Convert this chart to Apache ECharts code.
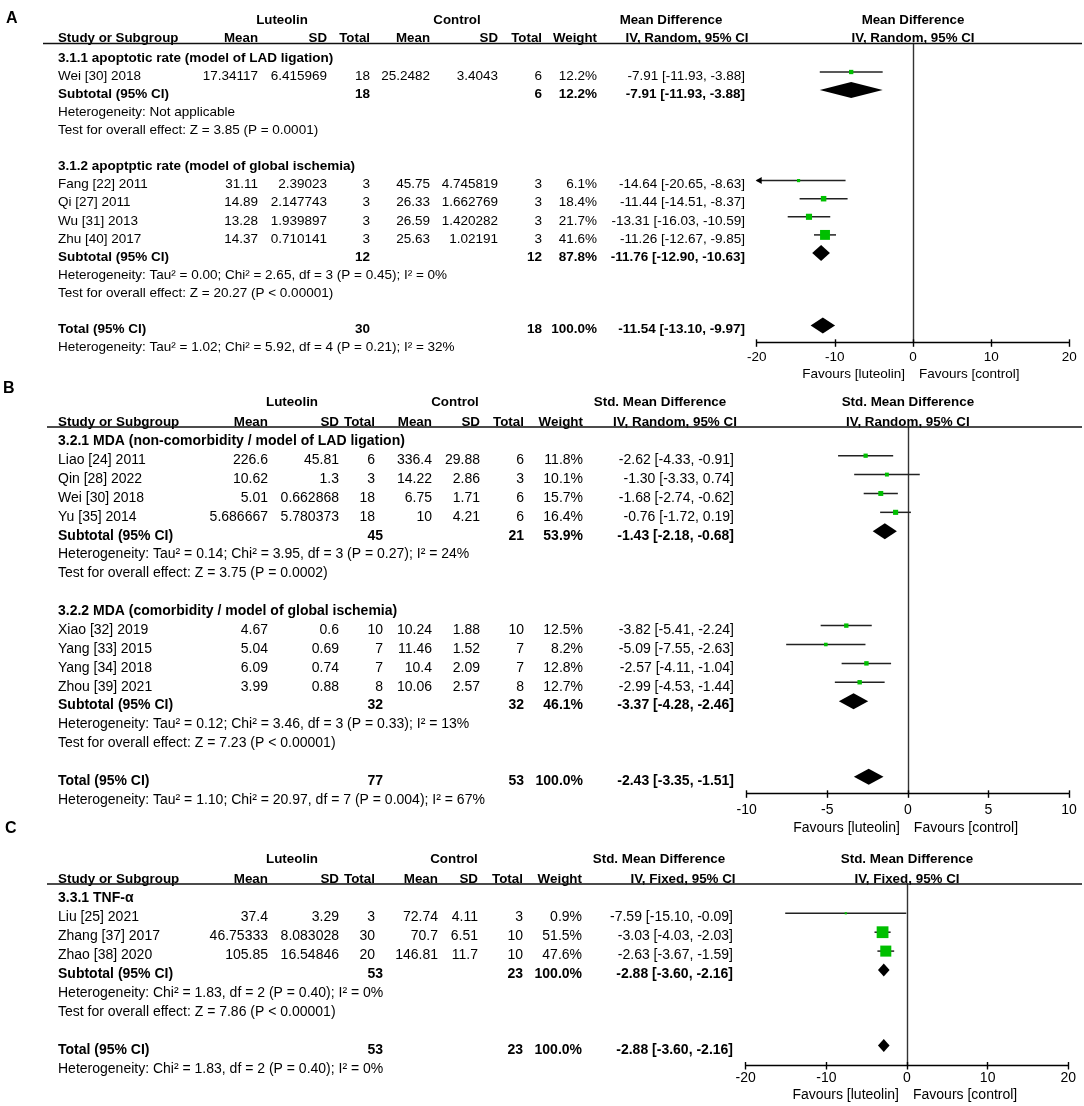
<!DOCTYPE html>
<html><head><meta charset="utf-8">
<script src="https://cdn.jsdelivr.net/npm/echarts@6/dist/echarts.min.js"></script>
<style>html,body{margin:0;padding:0;background:#fff}#c{width:1084px;height:1106px}</style>
</head><body><div id="c"></div>
<script>
// ---------------- Panel A data ----------------
const A_groups = ['3.1.1 apoptotic rate (model of LAD ligation)', '3.1.2 apoptptic rate (model of global ischemia)'];
const A_groupOf = [0, 1, 1, 1, 1];
const A_studies = ['Wei [30] 2018', 'Fang [22] 2011', 'Qi [27] 2011', 'Wu [31] 2013', 'Zhu [40] 2017'];
const A_lutMean = [17.34117, 31.11, 14.89, 13.28, 14.37];
const A_lutSD = [6.415969, 2.39023, 2.147743, 1.939897, 0.710141];
const A_lutN = [18, 3, 3, 3, 3];
const A_ctlMean = [25.2482, 45.75, 26.33, 26.59, 25.63];
const A_ctlSD = [3.4043, 4.745819, 1.662769, 1.420282, 1.02191];
const A_ctlN = [6, 3, 3, 3, 3];
const A_weight = [12.2, 6.1, 18.4, 21.7, 41.6];
const A_est = [-7.91, -14.64, -11.44, -13.31, -11.26];
const A_lo = [-11.93, -20.65, -14.51, -16.03, -12.67];
const A_hi = [-3.88, -8.63, -8.37, -10.59, -9.85];
const A_subLutN = [18, 12];
const A_subCtlN = [6, 12];
const A_subWeight = [12.2, 87.8];
const A_subEst = [-7.91, -11.76];
const A_subLo = [-11.93, -12.90];
const A_subHi = [-3.88, -10.63];
const A_subHet = ['Heterogeneity: Not applicable', 'Heterogeneity: Tau\u00b2 = 0.00; Chi\u00b2 = 2.65, df = 3 (P = 0.45); I\u00b2 = 0%'];
const A_subTest = ['Test for overall effect: Z = 3.85 (P = 0.0001)', 'Test for overall effect: Z = 20.27 (P < 0.00001)'];
const A_total = [30, 18, 100.0, -11.54, -13.10, -9.97];
const A_totalHet = 'Heterogeneity: Tau\u00b2 = 1.02; Chi\u00b2 = 5.92, df = 4 (P = 0.21); I\u00b2 = 32%';
const A_axis = [-20, 20, 10];

// ---------------- Panel B data ----------------
const B_groups = ['3.2.1 MDA (non-comorbidity / model of LAD ligation)', '3.2.2 MDA (comorbidity / model of global ischemia)'];
const B_groupOf = [0, 0, 0, 0, 1, 1, 1, 1];
const B_studies = ['Liao [24] 2011', 'Qin [28] 2022', 'Wei [30] 2018', 'Yu [35] 2014', 'Xiao [32] 2019', 'Yang [33] 2015', 'Yang [34] 2018', 'Zhou [39] 2021'];
const B_lutMean = [226.6, 10.62, 5.01, 5.686667, 4.67, 5.04, 6.09, 3.99];
const B_lutSD = [45.81, 1.3, 0.662868, 5.780373, 0.6, 0.69, 0.74, 0.88];
const B_lutN = [6, 3, 18, 18, 10, 7, 7, 8];
const B_ctlMean = [336.4, 14.22, 6.75, 10, 10.24, 11.46, 10.4, 10.06];
const B_ctlSD = [29.88, 2.86, 1.71, 4.21, 1.88, 1.52, 2.09, 2.57];
const B_ctlN = [6, 3, 6, 6, 10, 7, 7, 8];
const B_weight = [11.8, 10.1, 15.7, 16.4, 12.5, 8.2, 12.8, 12.7];
const B_est = [-2.62, -1.30, -1.68, -0.76, -3.82, -5.09, -2.57, -2.99];
const B_lo = [-4.33, -3.33, -2.74, -1.72, -5.41, -7.55, -4.11, -4.53];
const B_hi = [-0.91, 0.74, -0.62, 0.19, -2.24, -2.63, -1.04, -1.44];
const B_subLutN = [45, 32];
const B_subCtlN = [21, 32];
const B_subWeight = [53.9, 46.1];
const B_subEst = [-1.43, -3.37];
const B_subLo = [-2.18, -4.28];
const B_subHi = [-0.68, -2.46];
const B_subHet = ['Heterogeneity: Tau\u00b2 = 0.14; Chi\u00b2 = 3.95, df = 3 (P = 0.27); I\u00b2 = 24%', 'Heterogeneity: Tau\u00b2 = 0.12; Chi\u00b2 = 3.46, df = 3 (P = 0.33); I\u00b2 = 13%'];
const B_subTest = ['Test for overall effect: Z = 3.75 (P = 0.0002)', 'Test for overall effect: Z = 7.23 (P < 0.00001)'];
const B_total = [77, 53, 100.0, -2.43, -3.35, -1.51];
const B_totalHet = 'Heterogeneity: Tau\u00b2 = 1.10; Chi\u00b2 = 20.97, df = 7 (P = 0.004); I\u00b2 = 67%';
const B_axis = [-10, 10, 5];

// ---------------- Panel C data ----------------
const C_groups = ['3.3.1 TNF-\u03b1'];
const C_groupOf = [0, 0, 0];
const C_studies = ['Liu [25] 2021', 'Zhang [37] 2017', 'Zhao [38] 2020'];
const C_lutMean = [37.4, 46.75333, 105.85];
const C_lutSD = [3.29, 8.083028, 16.54846];
const C_lutN = [3, 30, 20];
const C_ctlMean = [72.74, 70.7, 146.81];
const C_ctlSD = [4.11, 6.51, 11.7];
const C_ctlN = [3, 10, 10];
const C_weight = [0.9, 51.5, 47.6];
const C_est = [-7.59, -3.03, -2.63];
const C_lo = [-15.10, -4.03, -3.67];
const C_hi = [-0.09, -2.03, -1.59];
const C_subLutN = [53];
const C_subCtlN = [23];
const C_subWeight = [100.0];
const C_subEst = [-2.88];
const C_subLo = [-3.60];
const C_subHi = [-2.16];
const C_subHet = ['Heterogeneity: Chi\u00b2 = 1.83, df = 2 (P = 0.40); I\u00b2 = 0%'];
const C_subTest = ['Test for overall effect: Z = 7.86 (P < 0.00001)'];
const C_total = [53, 23, 100.0, -2.88, -3.60, -2.16];
const C_totalHet = 'Heterogeneity: Chi\u00b2 = 1.83, df = 2 (P = 0.40); I\u00b2 = 0%';
const C_axis = [-20, 20, 10];

const FONT = '"Liberation Sans", Arial, Helvetica, sans-serif';
const GREEN = '#00bf00';
const INK = '#222';

// layout (positions / sizes only)
const layouts = [
  {letter: 'A', letterX: 6, letterY: 18.5, left: 756.7, right: 1069.3, top: 43.5, bottom: 342.3, r1: 72, step: 18.1,
   fs: 13.5, hfs: 13.3, textDy: 4, lineX0: 43, dH: 16, labelMargin: 8, favDy: 32, headDy: [-23, -5],
   cols: {study: 58, lm: 258, ls: 327, cm: 430, cs: 498, cn: 542, w: 597, ci: 745}, lnGroup: [370, 370], lnBold: 370,
   heads: {lut: 282, ctl: 457, eff: 671, effSub: 687}, effTitle: 'Mean Difference', method: 'IV, Random, 95% CI'},
  {letter: 'B', letterX: 3, letterY: 388.5, left: 746.7, right: 1069, top: 427, bottom: 793.3, r1: 455.7, step: 18.88,
   fs: 14, hfs: 13.4, textDy: 4.5, lineX0: 47, dH: 16, labelMargin: 10, favDy: 35, headDy: [-25, -5],
   cols: {study: 58, lm: 268, ls: 339, cm: 432, cs: 480, cn: 524, w: 583, ci: 734}, lnGroup: [375, 383], lnBold: 383,
   heads: {lut: 292, ctl: 455, eff: 660, effSub: 675}, effTitle: 'Std. Mean Difference', method: 'IV, Random, 95% CI'},
  {letter: 'C', letterX: 5, letterY: 829, left: 745.7, right: 1068.3, top: 884, bottom: 1065, r1: 913.3, step: 18.9,
   fs: 14, hfs: 13.4, textDy: 4.2, lineX0: 47, dH: 13, labelMargin: 6, favDy: 30, headDy: [-25, -5],
   cols: {study: 58, lm: 268, ls: 339, cm: 438, cs: 478, cn: 523, w: 582, ci: 733}, lnGroup: [375], lnBold: 383,
   heads: {lut: 292, ctl: 454, eff: 659, effSub: 683}, effTitle: 'Std. Mean Difference', method: 'IV, Fixed, 95% CI'}
];

const datasets = [
  {groups: A_groups, groupOf: A_groupOf, studies: A_studies, lutMean: A_lutMean, lutSD: A_lutSD, lutN: A_lutN, ctlMean: A_ctlMean, ctlSD: A_ctlSD, ctlN: A_ctlN, weight: A_weight, est: A_est, lo: A_lo, hi: A_hi, subLutN: A_subLutN, subCtlN: A_subCtlN, subWeight: A_subWeight, subEst: A_subEst, subLo: A_subLo, subHi: A_subHi, subHet: A_subHet, subTest: A_subTest, total: A_total, totalHet: A_totalHet, axis: A_axis},
  {groups: B_groups, groupOf: B_groupOf, studies: B_studies, lutMean: B_lutMean, lutSD: B_lutSD, lutN: B_lutN, ctlMean: B_ctlMean, ctlSD: B_ctlSD, ctlN: B_ctlN, weight: B_weight, est: B_est, lo: B_lo, hi: B_hi, subLutN: B_subLutN, subCtlN: B_subCtlN, subWeight: B_subWeight, subEst: B_subEst, subLo: B_subLo, subHi: B_subHi, subHet: B_subHet, subTest: B_subTest, total: B_total, totalHet: B_totalHet, axis: B_axis},
  {groups: C_groups, groupOf: C_groupOf, studies: C_studies, lutMean: C_lutMean, lutSD: C_lutSD, lutN: C_lutN, ctlMean: C_ctlMean, ctlSD: C_ctlSD, ctlN: C_ctlN, weight: C_weight, est: C_est, lo: C_lo, hi: C_hi, subLutN: C_subLutN, subCtlN: C_subCtlN, subWeight: C_subWeight, subEst: C_subEst, subLo: C_subLo, subHi: C_subHi, subHet: C_subHet, subTest: C_subTest, total: C_total, totalHet: C_totalHet, axis: C_axis}
];

function fmtCI(e, l, h) { return e.toFixed(2) + ' [' + l.toFixed(2) + ', ' + h.toFixed(2) + ']'; }
function fmtW(w) { return w.toFixed(1) + '%'; }

function build(D, L) {
  const C = L.cols;
  const rows = [], studies = [], diamonds = [];
  let r = 0;
  D.groups.forEach((title, g) => {
    rows.push({row: r, cells: [{t: title, x: C.study, a: 'left', b: true}]}); r++;
    D.studies.forEach((name, i) => {
      if (D.groupOf[i] !== g) return;
      rows.push({row: r, cells: [
        {t: name, x: C.study, a: 'left'},
        {t: String(D.lutMean[i]), x: C.lm}, {t: String(D.lutSD[i]), x: C.ls}, {t: String(D.lutN[i]), x: L.lnGroup[g]},
        {t: String(D.ctlMean[i]), x: C.cm}, {t: String(D.ctlSD[i]), x: C.cs}, {t: String(D.ctlN[i]), x: C.cn},
        {t: fmtW(D.weight[i]), x: C.w}, {t: fmtCI(D.est[i], D.lo[i], D.hi[i]), x: C.ci}]});
      studies.push([D.est[i], r, D.lo[i], D.hi[i], D.weight[i]]);
      r++;
    });
    rows.push({row: r, cells: [
      {t: 'Subtotal (95% CI)', x: C.study, a: 'left', b: true},
      {t: String(D.subLutN[g]), x: L.lnBold, b: true}, {t: String(D.subCtlN[g]), x: C.cn, b: true},
      {t: fmtW(D.subWeight[g]), x: C.w, b: true}, {t: fmtCI(D.subEst[g], D.subLo[g], D.subHi[g]), x: C.ci, b: true}]});
    diamonds.push([D.subEst[g], r, D.subLo[g], D.subHi[g]]);
    r++;
    rows.push({row: r, cells: [{t: D.subHet[g], x: C.study, a: 'left'}]}); r++;
    rows.push({row: r, cells: [{t: D.subTest[g], x: C.study, a: 'left'}]}); r++;
    r++;
  });
  const T = D.total;
  rows.push({row: r, cells: [
    {t: 'Total (95% CI)', x: C.study, a: 'left', b: true},
    {t: String(T[0]), x: L.lnBold, b: true}, {t: String(T[1]), x: C.cn, b: true},
    {t: fmtW(T[2]), x: C.w, b: true}, {t: fmtCI(T[3], T[4], T[5]), x: C.ci, b: true}]});
  diamonds.push([T[3], r, T[4], T[5]]);
  r++;
  rows.push({row: r, cells: [{t: D.totalHet, x: C.study, a: 'left'}]});
  // headers
  rows.push({mode: 'top', dy: L.headDy[0], fs: L.hfs, cells: [
    {t: 'Luteolin', x: L.heads.lut, a: 'center', b: true}, {t: 'Control', x: L.heads.ctl, a: 'center', b: true},
    {t: L.effTitle, x: L.heads.eff, a: 'center', b: true}, {t: L.effTitle, xz: 0, a: 'center', b: true}]});
  rows.push({mode: 'top', dy: L.headDy[1], fs: L.hfs, cells: [
    {t: 'Study or Subgroup', x: C.study, a: 'left', b: true},
    {t: 'Mean', x: C.lm, b: true}, {t: 'SD', x: C.ls, b: true}, {t: 'Total', x: L.lnGroup[0], b: true},
    {t: 'Mean', x: C.cm, b: true}, {t: 'SD', x: C.cs, b: true}, {t: 'Total', x: C.cn, b: true},
    {t: 'Weight', x: C.w, b: true}, {t: L.method, x: L.heads.effSub, a: 'center', b: true},
    {t: L.method, xz: 0, a: 'center', b: true}]});
  rows.push({mode: 'top', dy: 0, hline: true, cells: []});
  rows.push({mode: 'bottom', dy: L.favDy, cells: [
    {t: 'Favours [luteolin]', xz: -8, a: 'right'}, {t: 'Favours [control]', xz: 6, a: 'left'}]});
  return {rows, studies, diamonds};
}

const option = {
  animation: false,
  backgroundColor: '#fff',
  grid: [], xAxis: [], yAxis: [], series: [],
  graphic: []
};

layouts.forEach((L, gi) => {
  const D = datasets[gi];
  const yMin = 1 - (L.r1 - L.top) / L.step;
  const yMax = 1 + (L.bottom - L.r1) / L.step;
  const [xMin, xMax, step] = D.axis;
  const B = build(D, L);
  option.grid.push({left: L.left, top: L.top, width: L.right - L.left, height: L.bottom - L.top,
    containLabel: false, outerBoundsMode: 'none'});
  option.xAxis.push({gridIndex: gi, type: 'value', position: 'bottom', min: xMin, max: xMax, interval: step,
    axisLine: {onZero: false, lineStyle: {color: '#000', width: 1.4}},
    axisTick: {length: 4.5, lineStyle: {color: '#000', width: 1.4}},
    axisLabel: {margin: L.labelMargin, fontSize: L.fs, fontFamily: FONT, color: '#000'},
    splitLine: {show: false}});
  option.xAxis.push({gridIndex: gi, type: 'value', position: 'bottom', min: xMin, max: xMax, interval: step,
    axisLine: {show: false, onZero: false},
    axisTick: {inside: true, length: 3, lineStyle: {color: '#000', width: 1.4}},
    axisLabel: {show: false}, splitLine: {show: false}});
  option.yAxis.push({gridIndex: gi, type: 'value', inverse: true, min: yMin, max: yMax,
    axisLine: {show: true, onZero: true, lineStyle: {color: '#333', width: 1.4}},
    axisTick: {show: false}, axisLabel: {show: false}, splitLine: {show: false}});
  const xi = 2 * gi;
  // CI lines + squares
  option.series.push({type: 'custom', coordinateSystem: 'cartesian2d', xAxisIndex: xi, yAxisIndex: gi,
    clip: false, silent: true, data: B.studies,
    renderItem: (params, api) => {
      const est = api.value(0), row = api.value(1), lo = api.value(2), hi = api.value(3), w = api.value(4);
      const p0 = api.coord([Math.max(lo, xMin), row]);
      const p1 = api.coord([Math.min(hi, xMax), row]);
      const pc = api.coord([est, row]);
      const sz = 2 + 0.19 * w;
      const ch = [{type: 'line', shape: {x1: p0[0], y1: p0[1], x2: p1[0], y2: p1[1]}, style: {stroke: INK, lineWidth: 1.5}}];
      if (lo < xMin) ch.push({type: 'polygon', shape: {points: [[p0[0] - 1, p0[1]], [p0[0] + 5, p0[1] - 3.5], [p0[0] + 5, p0[1] + 3.5]]}, style: {fill: '#000'}});
      if (hi > xMax) ch.push({type: 'polygon', shape: {points: [[p1[0] + 1, p1[1]], [p1[0] - 5, p1[1] - 3.5], [p1[0] - 5, p1[1] + 3.5]]}, style: {fill: '#000'}});
      ch.push({type: 'rect', shape: {x: pc[0] - sz / 2, y: pc[1] - sz / 2, width: sz, height: sz}, style: {fill: GREEN}});
      return {type: 'group', children: ch};
    }});
  // diamonds
  option.series.push({type: 'custom', coordinateSystem: 'cartesian2d', xAxisIndex: xi, yAxisIndex: gi,
    clip: false, silent: true, data: B.diamonds,
    renderItem: (params, api) => {
      const est = api.value(0), row = api.value(1), lo = api.value(2), hi = api.value(3);
      const pl = api.coord([lo, row]), pr = api.coord([hi, row]), pc = api.coord([est, row]);
      const h = L.dH / 2;
      return {type: 'polygon', shape: {points: [[pl[0], pl[1]], [pc[0], pc[1] - h], [pr[0], pr[1]], [pc[0], pc[1] + h]]}, style: {fill: '#000'}};
    }});
  // table text
  const rows = B.rows;
  option.series.push({type: 'custom', coordinateSystem: 'cartesian2d', xAxisIndex: xi, yAxisIndex: gi,
    clip: false, silent: true, data: rows.map(R => [0, R.row != null ? R.row : yMin]),
    renderItem: (params, api) => {
      const R = rows[params.dataIndex];
      const z = api.coord([0, yMin]);
      const bot = api.coord([0, yMax])[1];
      let y;
      if (R.mode === 'top') y = z[1] + R.dy;
      else if (R.mode === 'bottom') y = bot + R.dy;
      else y = api.coord([0, R.row])[1] + L.textDy;
      if (R.hline) return {type: 'line', shape: {x1: L.lineX0, y1: y, x2: 1082, y2: y}, style: {stroke: '#111', lineWidth: 1.3}};
      return {type: 'group', children: R.cells.map(c => ({
        type: 'text', x: (c.xz != null ? z[0] + c.xz : c.x), y: y,
        style: {text: c.t, align: c.a || 'right', verticalAlign: 'middle', fontSize: R.fs || L.fs,
          fontWeight: c.b ? 'bold' : 'normal', fontFamily: FONT, fill: '#000'}
      }))};
    }});
  option.graphic.push({type: 'text', x: L.letterX, y: L.letterY,
    style: {text: L.letter, verticalAlign: 'middle', fontSize: 16, fontWeight: 'bold', fontFamily: FONT, fill: '#000'}});
});

const chart = echarts.init(document.getElementById('c'), null, {renderer: 'canvas'});
chart.setOption(option);
</script>
</body></html>
